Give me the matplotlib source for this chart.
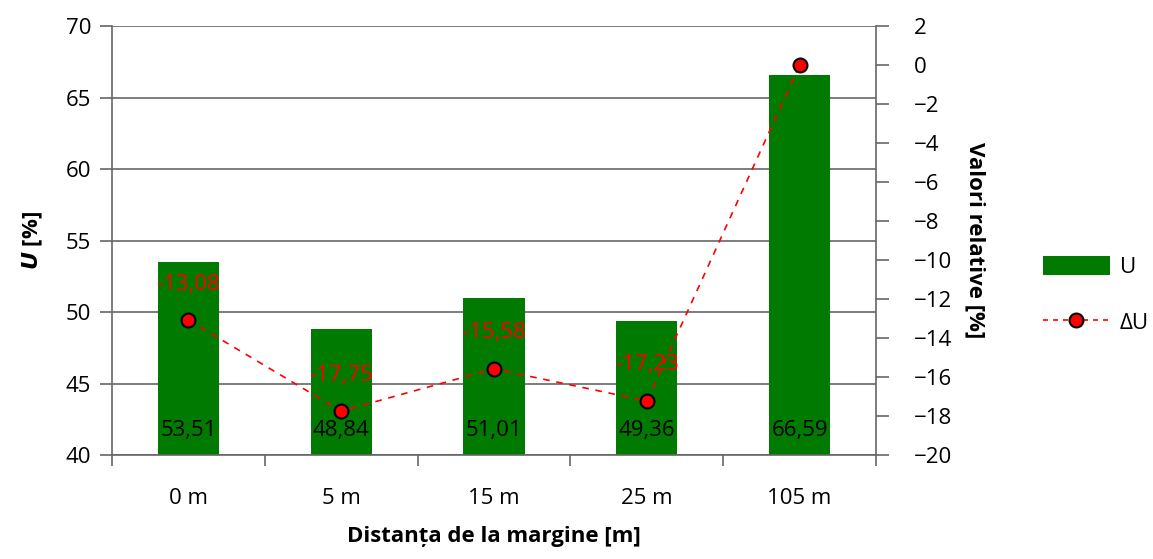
import matplotlib
matplotlib.use("Agg")
import matplotlib.pyplot as plt
from matplotlib.lines import Line2D
from matplotlib.patches import Patch
import numpy as np

categories = ["0 m", "5 m", "15 m", "25 m", "105 m"]
u_values = [53.51, 48.84, 51.01, 49.36, 66.59]
delta_u = [-13.08, -17.75, -15.58, -17.23, 0.0]

plt.rcParams['font.family'] = ['Open Sans', 'DejaVu Sans']
FS = 16

fig = plt.figure(figsize=(11.53, 5.59), dpi=100)
ax = fig.add_axes([112/1153, 1 - 455/559, (876-112)/1153, (455-26)/559])
ax2 = ax.twinx()

x = np.arange(len(categories))
ax.bar(x, u_values, width=0.4, color="#007a00", zorder=2)
ax.set_xlim(-0.5, len(categories) - 0.5)
ax.set_ylim(40, 70)
ax.set_yticks(np.arange(40, 71, 5))
ax.yaxis.grid(True, color="#666666", linewidth=1.2, zorder=0)
ax.set_axisbelow(True)

for xi, v in zip(x, u_values):
    ax.text(xi, 41.7, f"{v:.2f}".replace(".", ","), ha="center", va="center",
            fontsize=FS, color="black", zorder=5)

ax.set_xticks(x)
ax.set_xticklabels(categories, fontsize=FS)
ax.tick_params(axis="x", length=0, pad=24)
ax.set_xticks(np.arange(-0.5, len(categories), 1), minor=True)
ax.tick_params(axis="x", which="minor", length=8, color="#666666", width=1.2)
ax.tick_params(axis="y", labelsize=FS, length=9, color="#666666", width=1.2, pad=6)

for s in ["top", "right"]:
    ax.spines[s].set_visible(False)
ax.spines["left"].set_color("#666666")
ax.spines["bottom"].set_color("#666666")
ax.spines["left"].set_linewidth(1.2)
ax.spines["bottom"].set_linewidth(1.2)

ax2.plot(x, delta_u, linestyle=(0, (4, 4)), color="red", linewidth=1.2,
         marker="o", markersize=10, markerfacecolor="red",
         markeredgecolor="black", markeredgewidth=1.5, zorder=4)
ax2.set_ylim(-20, 2)
ax2.set_yticks(np.arange(-20, 3, 2))
ax2.tick_params(axis="y", labelsize=FS, length=9, color="#666666", width=1.2, pad=18)
for s in ["top", "left", "bottom"]:
    ax2.spines[s].set_visible(False)
ax2.spines["right"].set_color("#666666")
ax2.spines["right"].set_linewidth(1.2)

for xi, v in zip(x[:-1], delta_u[:-1]):
    ax2.annotate(f"{v:.2f}".replace(".", ","), (xi, v), xytext=(0, 36),
                 textcoords="offset pixels",
                 ha="center", va="center", fontsize=FS, color="red", zorder=6)

ax.set_ylabel(r"$\mathbfit{U}$ [%]", fontsize=FS, fontweight="bold", labelpad=15)
ax.set_xlabel("Distanța de la margine [m]", fontsize=FS, fontweight="bold", labelpad=12)
ax2.set_ylabel("Valori relative [%]", fontsize=FS, fontweight="bold",
               rotation=-90, labelpad=24)

handles = [Patch(facecolor="#007a00", edgecolor="none"),
           Line2D([0], [0], linestyle=(0, (3, 3)), color="red", linewidth=1.2,
                  marker="o", markersize=10, markerfacecolor="red",
                  markeredgecolor="black", markeredgewidth=1.5)]
fig.legend(handles, ["U", "ΔU"], loc="center left",
           bbox_to_anchor=(1043/1153, 1 - 295/559), frameon=False,
           borderpad=0, borderaxespad=0,
           fontsize=FS, handlelength=3.0, handleheight=0.9, labelspacing=1.5,
           handletextpad=0.45)

fig.savefig("out.png", dpi=100)
